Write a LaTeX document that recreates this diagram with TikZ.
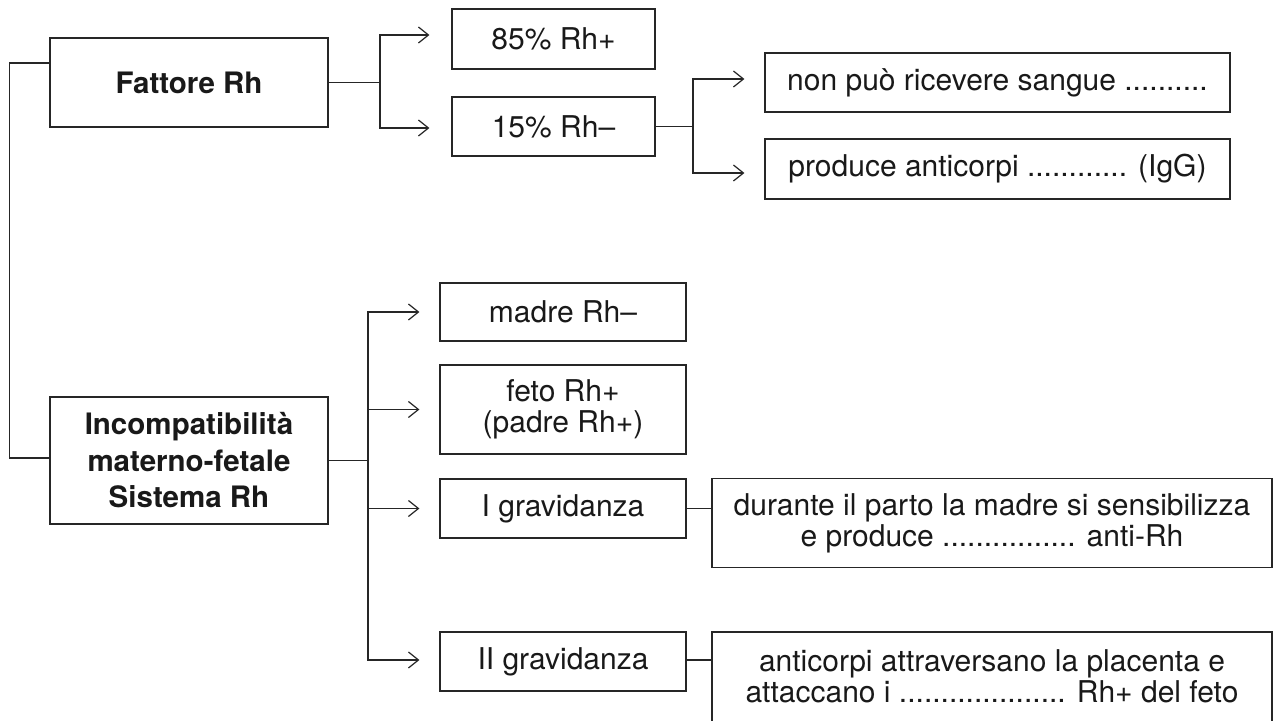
\documentclass[tikz,border=0pt]{standalone}
\usepackage{fontspec}
\setmainfont{TeX Gyre Heros}
\usetikzlibrary{arrows.meta}
\begin{document}
\begin{tikzpicture}[x=1pt,y=-1pt,
  box/.style={draw=black!85, line width=1.2pt, inner sep=0pt, align=center, text=black!90, font=\fontsize{30}{31}\selectfont},
  bbox/.style={box, font=\fontsize{29.5}{36.5}\selectfont\bfseries},
  conn/.style={draw=black!85, line width=1.2pt},
  arr/.style={conn, -{Straight Barb[length=10pt,width=16pt,line width=1.2pt]}},
]
\clip (0,0) rectangle (1279,720);
\fill[white] (0,0) rectangle (1279,720);

\node[bbox, minimum width=278pt, minimum height=89pt] (fat) at (189,82.5) {Fattore Rh};
\node[bbox, minimum width=278pt, minimum height=127pt] (inc) at (189,460.5) {Incompatibilità\\materno-fetale\\Sistema Rh};
\node[box, minimum width=203pt, minimum height=60pt] (p85) at (553.5,39) {85\% Rh+};
\node[box, minimum width=203pt, minimum height=59pt] (p15) at (553.5,126.5) {15\% Rh–};
\node[box, minimum width=465pt, minimum height=59pt] (npr) at (997.5,82.5) {non può ricevere sangue ..........};
\node[box, minimum width=465pt, minimum height=60pt] (pac) at (997.5,169) {produce anticorpi ............ (IgG)};
\node[box, minimum width=246pt, minimum height=58pt] (mad) at (563,312) {madre Rh–};
\node[box, minimum width=246pt, minimum height=89pt] (fet) at (563,409.5) {feto Rh+\\(padre Rh+)};
\node[box, minimum width=246pt, minimum height=59pt] (g1) at (563,508.5) {I gravidanza};
\node[box, minimum width=246pt, minimum height=59pt] (g2) at (563,661.5) {II gravidanza};
\node[box, minimum width=560pt, minimum height=89pt] (dur) at (992,523) {durante il parto la madre si sensibilizza\\e produce ................ anti-Rh};
\node[box, minimum width=560pt, minimum height=100pt, text depth=12pt] (ant) at (992,682) {anticorpi attraversano la placenta e\\attaccano i .................... Rh+ del feto};

\coordinate (jf) at (380,0);
\coordinate (j15) at (693,0);
\coordinate (ji) at (368,0);

% Fattore Rh branches
\draw[conn] (fat.east) -- (fat.east -| jf);
\draw[arr] (fat.east -| jf) |- ([xshift=-22pt,yshift=4pt]p85.west);
\draw[arr] (fat.east -| jf) |- ([xshift=-22pt,yshift=-1.5pt]p15.west);

% 15% Rh- branches
\draw[conn] (p15.east) -- (p15.east -| j15);
\draw[arr] (p15.east -| j15) |- ([xshift=-20pt,yshift=3.5pt]npr.west);
\draw[arr] (p15.east -| j15) |- ([xshift=-20pt,yshift=-4pt]pac.west);

% Incompatibilita branches
\draw[conn] (inc.east) -- (inc.east -| ji);
\draw[arr] (inc.east -| ji) |- ([xshift=-20pt]mad.west);
\draw[arr] (inc.east -| ji) |- ([xshift=-20pt]fet.west);
\draw[arr] (inc.east -| ji) |- ([xshift=-20pt]g1.west);
\draw[arr] (inc.east -| ji) |- ([xshift=-20pt,yshift=1.5pt]g2.west);

% gravidanza to descriptions
\draw[conn] (g1.east) -- (g1.east -| dur.west);
\draw[conn] ([yshift=1.5pt]g2.east) -- ([yshift=1.5pt]g2.east -| ant.west);

% left link
\draw[conn] ([yshift=19.5pt]fat.west) -- ++(-40,0) |- ([yshift=2.5pt]inc.west);
\end{tikzpicture}
\end{document}
